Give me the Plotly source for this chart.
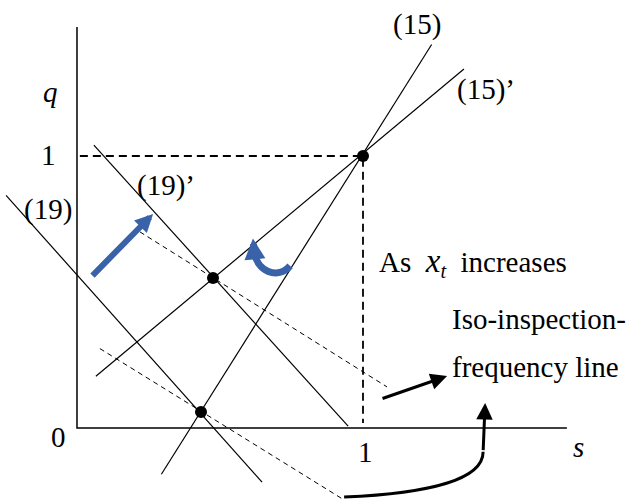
import plotly.graph_objects as go

# ---- diagram geometry in (s, q) units ----
# equilibrium / intersection points
dot_s = [1.0, 0.4755, 0.4336]
dot_q = [1.0, 0.5515, 0.0588]

# coordinate axes (drawn as one polyline: q-axis down to origin, then s-axis)
axis_s = [0.0, 0.0, 1.713]
axis_q = [1.474, 0.0, 0.0]

# dashed guides from the point (1, 1)
guide_s = [0.01, 1.0, 1.0]
guide_q = [1.0, 1.0, 0.018]

# condition (15) and (15)'
eq15_s = [0.295, 1.24]
eq15_q = [-0.17, 1.41]
eq15p_s = [0.066, 1.353]
eq15p_q = [0.19, 1.32]

# condition (19) and (19)'
eq19_s = [-0.248, 0.647]
eq19_q = [0.855, -0.199]
eq19p_s = [0.059, 0.948]
eq19p_q = [1.040, 0.007]

# iso-inspection-frequency lines
iso_hi_s = [0.22, 1.084]
iso_hi_q = [0.721, 0.151]
iso_lo_s = [0.080, 0.930]
iso_lo_q = [0.292, -0.262]

# arrows: (tail, tip)
shift_arrow_s = [0.049, 0.266]
shift_arrow_q = [0.555, 0.787]
label_arrow_s = [1.063, 1.294]
label_arrow_q = [0.1066, 0.191]

# curved arrows as cubic Bezier control points, plus the final tip
rot_curve_s = [0.745, 0.703, 0.626, 0.619]
rot_curve_q = [0.596, 0.544, 0.574, 0.654]
rot_tip = (0.615, 0.697)
link_curve_s = [0.934, 1.234, 1.42, 1.42]
link_curve_q = [-0.254, -0.239, -0.191, -0.087]
link_tip = (1.427, 0.092)

# text labels: (text, s, q, anchor)
labels = [
    ("<i>q</i>", -0.094, 1.235, "center"),
    ("1", -0.101, 1.005, "center"),
    ("(19)’", 0.311, 0.893, "center"),
    ("(19)", -0.101, 0.805, "center"),
    ("0", -0.063, -0.033, "center"),
    ("1", 1.007, -0.088, "center"),
    ("<i>s</i>", 1.752, -0.07, "center"),
    ("(15)", 1.189, 1.485, "center"),
    ("(15)’", 1.43, 1.246, "center"),
    ("As  <span style='font-size:33px'><i>x</i></span><sub><i>t</i></sub>  increases",
     1.050, 0.61, "left"),
    ("Iso-inspection-", 1.304, 0.401, "left"),
    ("frequency line", 1.304, 0.224, "left"),
]

BLUE = "#3a62a8"
FONT = "Liberation Serif"

fig = go.Figure()


def seg(xs, ys, width=1.2, dash="solid", color="black"):
    fig.add_trace(go.Scatter(x=xs, y=ys, mode="lines",
                             line=dict(color=color, width=width, dash=dash),
                             hoverinfo="skip", showlegend=False))


seg(axis_s, axis_q, width=1.5)
seg(guide_s, guide_q, width=1.8, dash="8px,5px")
seg(eq15_s, eq15_q)
seg(eq15p_s, eq15p_q)
seg(eq19_s, eq19_q)
seg(eq19p_s, eq19p_q)
seg(iso_hi_s, iso_hi_q, width=1.0, dash="5px,4px")
seg(iso_lo_s, iso_lo_q, width=1.0, dash="5px,4px")

fig.add_trace(go.Scatter(x=dot_s, y=dot_q, mode="markers",
                         marker=dict(color="black", size=12),
                         hoverinfo="skip", showlegend=False))


def bezier(xs, ys):
    return (f"M {xs[0]},{ys[0]} C {xs[1]},{ys[1]} "
            f"{xs[2]},{ys[2]} {xs[3]},{ys[3]}")


shapes = [
    dict(type="path", xref="x", yref="y", path=bezier(rot_curve_s, rot_curve_q),
         line=dict(color=BLUE, width=7)),
    dict(type="path", xref="x", yref="y", path=bezier(link_curve_s, link_curve_q),
         line=dict(color="black", width=3)),
]

annotations = []
# straight arrows
annotations.append(dict(x=shift_arrow_s[1], y=shift_arrow_q[1], ax=shift_arrow_s[0],
                        ay=shift_arrow_q[0], xref="x", yref="y", axref="x", ayref="y",
                        text="", showarrow=True, arrowhead=2, arrowsize=0.6,
                        arrowwidth=6, arrowcolor=BLUE))
annotations.append(dict(x=label_arrow_s[1], y=label_arrow_q[1], ax=label_arrow_s[0],
                        ay=label_arrow_q[0], xref="x", yref="y", axref="x", ayref="y",
                        text="", showarrow=True, arrowhead=2, arrowsize=1.1,
                        arrowwidth=3, arrowcolor="black"))
# heads on the curved arrows
annotations.append(dict(x=rot_tip[0], y=rot_tip[1], ax=rot_curve_s[3], ay=rot_curve_q[3],
                        xref="x", yref="y", axref="x", ayref="y",
                        text="", showarrow=True, arrowhead=2, arrowsize=0.6,
                        arrowwidth=7, arrowcolor=BLUE))
annotations.append(dict(x=link_tip[0], y=link_tip[1], ax=link_curve_s[3], ay=link_curve_q[3],
                        xref="x", yref="y", axref="x", ayref="y",
                        text="", showarrow=True, arrowhead=2, arrowsize=1.1,
                        arrowwidth=3, arrowcolor="black"))

for text, s, q, anchor in labels:
    annotations.append(dict(x=s, y=q, xref="x", yref="y", text=text, showarrow=False,
                            xanchor=anchor, yanchor="middle",
                            font=dict(family=FONT, size=29, color="black")))

fig.update_layout(
    width=640, height=504,
    margin=dict(l=0, r=0, t=0, b=0),
    paper_bgcolor="white", plot_bgcolor="white",
    xaxis=dict(range=[-0.2692, 1.9685], visible=False, fixedrange=True),
    yaxis=dict(range=[-0.2794, 1.5735], visible=False, fixedrange=True),
    shapes=shapes,
    annotations=annotations,
)

fig.write_html("out.html")
